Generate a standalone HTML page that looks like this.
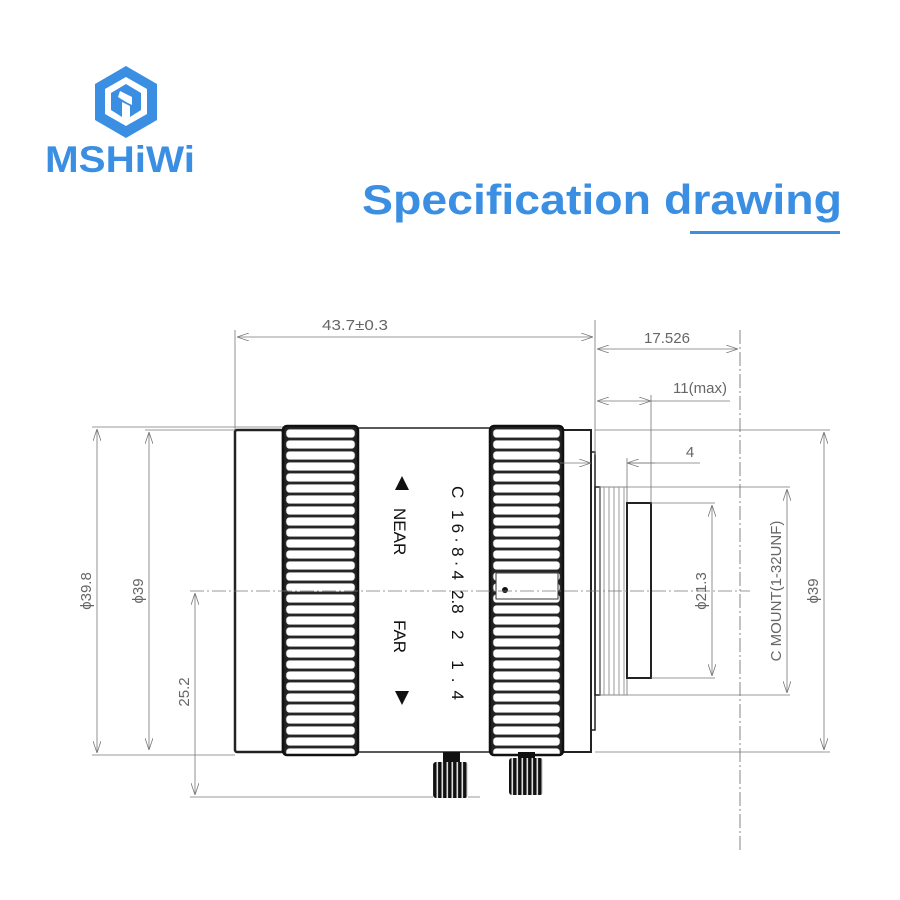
<!DOCTYPE html>
<html><head><meta charset="utf-8"><style>
html,body{margin:0;padding:0;background:#fff;}
svg{display:block}
</style></head><body>
<svg width="900" height="900" viewBox="0 0 900 900" xmlns="http://www.w3.org/2000/svg">
<defs>
<pattern id="kn1" x="283" y="428" width="75" height="11" patternUnits="userSpaceOnUse">
<rect x="0" y="0" width="75" height="11" fill="#222"/>
<rect x="3" y="1.2" width="69" height="8.6" rx="3.5" fill="#fff" stroke="#444" stroke-width="0.6"/>
</pattern>
<pattern id="kn2" x="490" y="428" width="73" height="11" patternUnits="userSpaceOnUse">
<rect x="0" y="0" width="73" height="11" fill="#222"/>
<rect x="3" y="1.2" width="67" height="8.6" rx="3.5" fill="#fff" stroke="#444" stroke-width="0.6"/>
</pattern>
<pattern id="kb" x="0" y="0" width="5" height="10" patternUnits="userSpaceOnUse">
<rect width="5" height="10" fill="#111"/><rect x="1.5" width="1.6" height="10" fill="#ddd"/>
</pattern>
<marker id="ar" viewBox="0 0 12 8" refX="12" refY="4" markerWidth="12" markerHeight="8" orient="auto-start-reverse" markerUnits="userSpaceOnUse">
<path d="M0,0 L12,4 L0,8" fill="none" stroke="#777" stroke-width="0.8"/>
</marker>
</defs>

<g transform="translate(126,102)">
<polygon points="0,-36 31,-18 31,18 0,36 -31,18 -31,-18" fill="#3b8fe3"/>
<polygon points="0,-25 21,-13 21,12 0,24 -21,12 -21,-13" fill="#fff"/>
<polygon points="0,-18 15,-9 15,8 4,15 4,4 -4,0 -4,15 -15,8 -15,-9" fill="#3b8fe3"/>
<polygon points="-6,-11 6,-5 6,3 0,0 -8,-5" fill="#fff"/>
</g>
<text x="120" y="172" text-anchor="middle" font-family="Liberation Sans, sans-serif" font-weight="bold" font-size="37" fill="#3b8fe3" textLength="150" lengthAdjust="spacingAndGlyphs">MSHiWi</text>

<text x="362" y="214" font-family="Liberation Sans, sans-serif" font-weight="bold" font-size="42" fill="#3b8fe3" textLength="480" lengthAdjust="spacingAndGlyphs">Specification drawing</text>
<rect x="690" y="231" width="150" height="3" fill="#3b8fe3"/>

<g fill="none" stroke="#222">
<rect x="235" y="430" width="48" height="322" stroke-width="2.5" rx="2"/>
<rect x="358" y="428" width="132" height="324" stroke-width="1.5"/>
<rect x="563" y="430" width="28" height="322" stroke-width="2"/>
<rect x="591" y="452" width="4" height="278" stroke-width="1.5"/>
<rect x="595" y="487" width="5" height="208" stroke-width="1.5"/>
<rect x="600" y="487" width="27" height="208" stroke="#888" stroke-width="1"/>
<path d="M604 487V695M609 487V695M614 487V695M619 487V695M624 487V695" stroke="#999" stroke-width="1"/>
<rect x="627" y="503" width="24" height="175" stroke-width="2"/>
</g>
<rect x="283" y="426" width="75" height="329" rx="4" fill="url(#kn1)" stroke="#111" stroke-width="2.5"/>
<rect x="490" y="426" width="73" height="329" rx="4" fill="url(#kn2)" stroke="#111" stroke-width="2.5"/>
<rect x="496" y="573" width="62" height="26" fill="#fff" stroke="#333" stroke-width="1"/>
<circle cx="505" cy="590" r="3" fill="#111"/>
<rect x="443" y="752" width="17" height="10" fill="#111"/>
<rect x="433" y="762" width="35" height="36" rx="3" fill="url(#kb)"/>
<rect x="518" y="752" width="17" height="7" fill="#111"/>
<rect x="509" y="758" width="34" height="37" rx="3" fill="url(#kb)"/>

<g font-family="Liberation Sans, sans-serif" font-size="17" fill="#111">
<polygon points="402,476 395,490 409,490" fill="#111"/>
<polygon points="402,705 395,691 409,691" fill="#111"/>
<text transform="translate(394,508) rotate(90)">NEAR</text>
<text transform="translate(394,620) rotate(90)">FAR</text>
<text transform="translate(452,486) rotate(90)">C</text>
<text transform="translate(452,510) rotate(90)" textLength="70" lengthAdjust="spacing">16·8·4</text>
<text transform="translate(452,590) rotate(90)">2.8</text>
<text transform="translate(452,630) rotate(90)" textLength="70" lengthAdjust="spacing">2 1.4</text>
</g>

<path d="M190 591H750" stroke="#777" stroke-width="0.8" stroke-dasharray="14,3,2,3" fill="none"/>
<path d="M740 330V850" stroke="#666" stroke-width="0.8" stroke-dasharray="14,3,2,3" fill="none"/>

<g stroke="#777" stroke-width="0.8" fill="none">
<path d="M235 330V430M595 320V455M651 395V503"/>
<path d="M237 337H593" marker-start="url(#ar)" marker-end="url(#ar)"/>
<path d="M597 349H738" marker-start="url(#ar)" marker-end="url(#ar)"/>
<path d="M597 401H651" marker-start="url(#ar)" marker-end="url(#ar)"/>
<path d="M651 401H730"/>
<path d="M560 463H591" marker-end="url(#ar)"/>
<path d="M655 463H627" marker-end="url(#ar)"/><path d="M627 463H700M627 458V487"/>
<path d="M92 427H283M145 430H235M190 797H433M468 797H480"/>
<path d="M97 429V753" marker-start="url(#ar)" marker-end="url(#ar)"/>
<path d="M149 432V750" marker-start="url(#ar)" marker-end="url(#ar)"/>
<path d="M195 593V795" marker-start="url(#ar)" marker-end="url(#ar)"/>
<path d="M92 755H235"/>
<path d="M651 503H715M651 678H715M627 487H790M627 695H790M595 430H830M595 752H830"/>
<path d="M712 505V676" marker-start="url(#ar)" marker-end="url(#ar)"/>
<path d="M787 489V693" marker-start="url(#ar)" marker-end="url(#ar)"/>
<path d="M824 432V750" marker-start="url(#ar)" marker-end="url(#ar)"/>
</g>
<g font-family="Liberation Sans, sans-serif" font-size="15" fill="#666">
<text x="355" y="330" text-anchor="middle" textLength="66" lengthAdjust="spacingAndGlyphs">43.7±0.3</text>
<text x="667" y="343" text-anchor="middle">17.526</text>
<text x="700" y="393" text-anchor="middle">11(max)</text>
<text x="690" y="457" text-anchor="middle">4</text>
<text transform="translate(91,591) rotate(-90)" text-anchor="middle">ϕ39.8</text>
<text transform="translate(143,591) rotate(-90)" text-anchor="middle">ϕ39</text>
<text transform="translate(189,692) rotate(-90)" text-anchor="middle">25.2</text>
<text transform="translate(706,591) rotate(-90)" text-anchor="middle">ϕ21.3</text>
<text transform="translate(781,591) rotate(-90)" text-anchor="middle">C MOUNT(1-32UNF)</text>
<text transform="translate(818,591) rotate(-90)" text-anchor="middle">ϕ39</text>
</g>
</svg>
</body></html>
